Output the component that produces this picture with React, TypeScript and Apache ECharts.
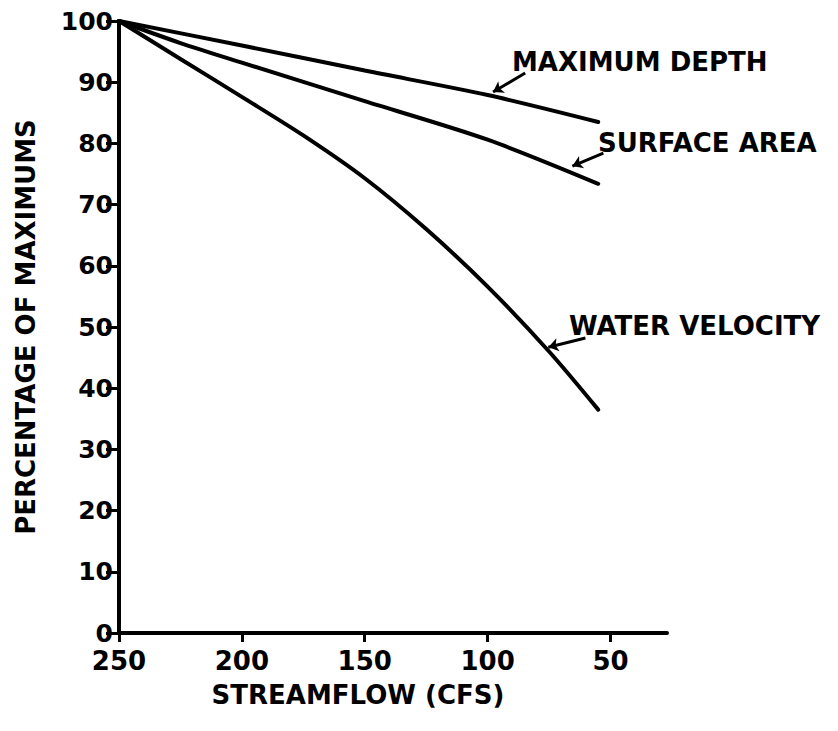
import React, { useEffect, useRef } from "react";
import * as echarts from "echarts";

const xTicks = [250, 200, 150, 100, 50];
const depthFlow = [250, 200, 150, 100, 55];
const depthPct = [100, 96, 91.9, 87.9, 83.5];
const areaFlow = [250, 225, 200, 150, 100, 55];
const areaPct = [100, 96.4, 93.2, 86.9, 80.6, 73.4];
const velFlow = [250, 225, 200, 175, 150, 125, 100, 75, 55];
const velPct = [100, 93.8, 87.6, 81.3, 74.3, 66.0, 56.6, 46.0, 36.5];

const seriesNames = ["MAXIMUM DEPTH", "SURFACE AREA", "WATER VELOCITY"];
// arrow pointers in data space: [fromFlow, fromPct, toFlow, toPct]
const arrows = [
  [84.7, 91.5, 97.8, 88.4],
  [52.9, 78.4, 65.5, 76.3],
  [60.2, 48.2, 75.3, 46.7],
];

const FONT = "DejaVu Sans";

export default function App() {
  const ref = useRef<HTMLDivElement>(null);
  useEffect(() => {
    if (!ref.current) return;
    const chart = echarts.init(ref.current, null, { renderer: "svg" });
    const zip = (a: number[], b: number[]) => a.map((v, i) => [v, b[i]]);
    const datasets = [zip(depthFlow, depthPct), zip(areaFlow, areaPct), zip(velFlow, velPct)];
    const labelPos = [
      [512, 62],
      [598, 143],
      [569, 326],
    ];
    chart.setOption({
      animation: false,
      backgroundColor: "#ffffff",
      grid: { left: 119, top: 21, width: 548, height: 612, containLabel: false },
      xAxis: {
        type: "value",
        inverse: true,
        min: 27,
        max: 250,
        name: "STREAMFLOW (CFS)",
        nameLocation: "middle",
        nameGap: 49,
        nameTextStyle: { color: "#000", fontSize: 26, fontFamily: FONT, fontWeight: "bold", padding: [0, 70, 0, 0] },
        axisLine: { lineStyle: { color: "#000", width: 4 } },
        axisTick: { show: true, length: 9, lineStyle: { color: "#000", width: 3 }, customValues: xTicks },
        axisLabel: { color: "#000", fontSize: 26, lineHeight: 24, fontFamily: FONT, fontWeight: "bold", margin: 16, customValues: xTicks },
        splitLine: { show: false },
      },
      yAxis: {
        type: "value",
        min: 0,
        max: 100,
        interval: 10,
        name: "PERCENTAGE OF MAXIMUMS",
        nameLocation: "middle",
        nameGap: 80,
        nameRotate: 90,
        nameTextStyle: { color: "#000", fontSize: 26, fontFamily: FONT, fontWeight: "bold" },
        axisLine: { show: true, lineStyle: { color: "#000", width: 4 } },
        axisTick: { show: true, length: 13, lineStyle: { color: "#000", width: 3 } },
        axisLabel: { color: "#000", fontSize: 25, lineHeight: 20, fontFamily: FONT, fontWeight: "bold", margin: 6 },
        splitLine: { show: false },
      },
      series: datasets.map((d, i) => ({
        type: "line",
        name: seriesNames[i],
        data: d,
        smooth: 0.3,
        symbol: "none",
        lineStyle: { color: "#000", width: 4, cap: "round" },
        markLine: {
          silent: true,
          symbol: ["none", "arrow"],
          symbolSize: 10,
          label: { show: false },
          lineStyle: { color: "#000", width: 3, type: "solid" },
          data: [[{ coord: [arrows[i][0], arrows[i][1]] }, { coord: [arrows[i][2], arrows[i][3]] }]],
        },
      })),
      graphic: seriesNames.map((n, i) => ({
        type: "text",
        x: labelPos[i][0],
        y: labelPos[i][1],
        style: {
          text: n,
          fill: "#000",
          font: `bold 26px "${FONT}"`,
          verticalAlign: "middle",
          align: "left",
        },
      })),
    });
    return () => chart.dispose();
  }, []);
  return <div ref={ref} style={{ position: "absolute", left: 0, top: 0, width: 838, height: 731 }} />;
}
